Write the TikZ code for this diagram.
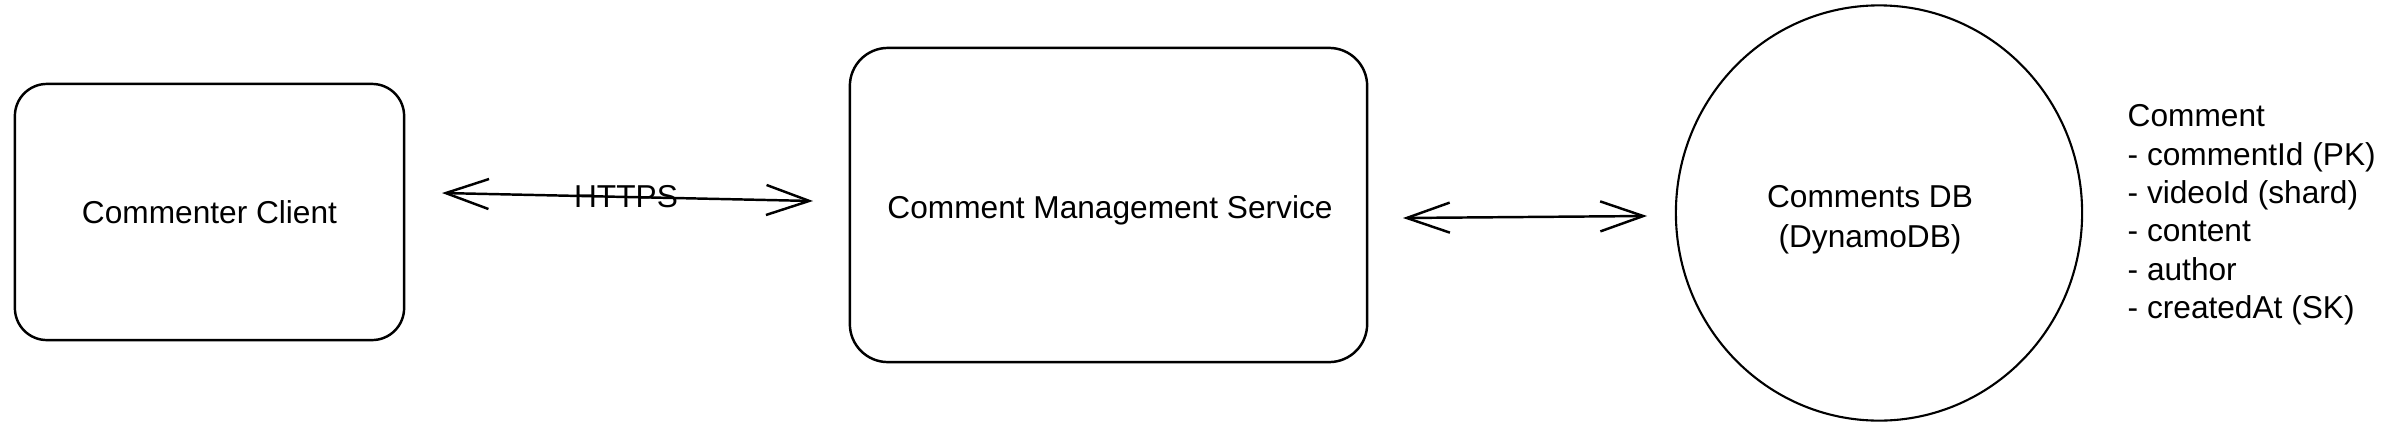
\documentclass[tikz,border=0pt]{standalone}
\usepackage{fontspec}
\setmainfont{Liberation Sans}
\usetikzlibrary{shapes.geometric,arrows.meta}
\begin{document}
\begin{tikzpicture}[x=0.01cm,y=-0.01cm,
  box/.style={draw,line width=0.7pt,rounded corners=0.32cm,inner sep=0pt,
    font=\fontsize{9}{10.8}\selectfont},
  dbshape/.style={draw,ellipse,line width=0.6pt,inner sep=0pt},
  conn/.style={line width=0.7pt,{Straight Barb[length=0.43cm,width=0.3cm]}-{Straight Barb[length=0.43cm,width=0.3cm]}},
  lbl/.style={font=\fontsize{9}{10.8}\selectfont,inner sep=0pt}]
\useasboundingbox (0,0) rectangle (2400,436);
\node[box,minimum width=3.89cm,minimum height=2.56cm] (client) at (209.5,212) {Commenter Client};
\node[box,minimum width=5.17cm,minimum height=3.14cm,rounded corners=0.38cm] (svc) at (1108.5,205) {};
\node[lbl] (svctext) at (1110,210) {Comment Management Service};
\node[dbshape,minimum width=4.06cm,minimum height=4.15cm] (db) at (1879,213) {};
\node[lbl,align=center,font=\fontsize{9}{11.4}\selectfont] (dbtext) at (1870,220) {Comments DB\\(DynamoDB)};
\coordinate (h1) at (442,193);
\coordinate (h2) at (813,201);
\coordinate (d1) at (1403,218);
\coordinate (d2) at (1647,216);
\draw[conn] (h1) -- (h2);
\node[lbl] (https) at (626,197) {HTTPS};
\draw[conn] (d1) -- (d2);
\node[lbl,anchor=north west,align=left,font=\fontsize{9}{10.9}\selectfont] (schema) at (2127,104) {Comment\\- commentId (PK)\\- videoId (shard)\\- content\\- author\\- createdAt (SK)};
\end{tikzpicture}
\end{document}
